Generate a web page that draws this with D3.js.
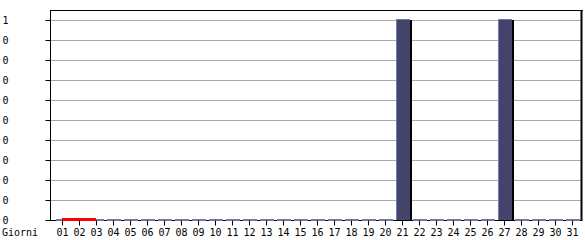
<!DOCTYPE html>
<html><head><meta charset="utf-8">
<script src="https://cdn.jsdelivr.net/npm/d3@7"></script>
<style>
html,body{margin:0;padding:0;background:#fff;}
svg{display:block;}
text{font-family:"DejaVu Sans Mono",monospace;font-size:10px;fill:#000;}
</style></head><body>
<script>
const days = ["01","02","03","04","05","06","07","08","09","10","11","12","13","14","15","16","17","18","19","20","21","22","23","24","25","26","27","28","29","30","31"];
const visits = [0,0,0,0,0,0,0,0,0,0,0,0,0,0,0,0,0,0,0,0,1,0,0,0,0,0,1,0,0,0,0];
const redDays = ["01","02","03"];
const redValues = [0,0,0];
const yTickValues = [0,0.1,0.2,0.3,0.4,0.5,0.6,0.7,0.8,0.9,1];
const yTickLabels = ["0","0","0","0","0","0","0","0","0","0","1"];
const xAxisTitle = "Giorni";

const W = 585, H = 240;
const svg = d3.select("body").append("svg").attr("width", W).attr("height", H);

const x = d3.scaleBand().domain(days).range([53.5, 580.5]).paddingInner(0).paddingOuter(0);
const y = d3.scaleLinear().domain([0, 1]).range([220, 20]);
const cx = d => x(d) + x.bandwidth() / 2;

// gridlines
svg.append("g").selectAll("line").data(yTickValues.filter(v => v > 0)).join("line")
  .attr("x1", 50).attr("x2", 582)
  .attr("y1", d => Math.round(y(d)) + 0.5).attr("y2", d => Math.round(y(d)) + 0.5)
  .attr("stroke", "#aaaaaa").attr("stroke-width", 1);

// frame
svg.append("line").attr("x1", 50).attr("x2", 583).attr("y1", 10.5).attr("y2", 10.5).attr("stroke", "#000");
svg.append("line").attr("x1", 581.5).attr("x2", 581.5).attr("y1", 10).attr("y2", 221).attr("stroke", "#000").attr("stroke-width", 2);
svg.append("line").attr("x1", 50).attr("x2", 582).attr("y1", 220.5).attr("y2", 220.5).attr("stroke", "#000");

// bars
const bw = 14;
const bars = svg.append("g").selectAll("g").data(days.map((d, i) => ({d, v: visits[i]}))).join("g");
bars.each(function(p) {
  const g = d3.select(this);
  const left = Math.round(cx(p.d)) - 6;
  const top = Math.round(y(p.v));
  const h = 220 - top;
  if (h > 0) {
    g.append("rect").attr("x", left + 14).attr("y", top).attr("width", 2).attr("height", h).attr("fill", "#000");
    g.append("rect").attr("x", left).attr("y", top).attr("width", bw).attr("height", h).attr("fill", "#44446b");
    g.append("rect").attr("x", left).attr("y", top - 1).attr("width", bw).attr("height", 1).attr("fill", "#7777bb");
    g.append("rect").attr("x", left).attr("y", top - 1).attr("width", 1).attr("height", h + 1).attr("fill", "#7777bb");
  } else {
    g.append("rect").attr("x", left).attr("y", top - 1).attr("width", bw).attr("height", 2).attr("fill", "#7373ad");
  }
});

// red line
svg.append("path")
  .datum(redDays.map((d, i) => ({d, v: redValues[i]})))
  .attr("d", d3.line().x(p => Math.round(cx(p.d))).y(p => y(p.v) - 0.5))
  .attr("stroke", "#ff0000").attr("stroke-width", 3).attr("fill", "none");

// y axis
const yAxis = svg.append("g").attr("transform", "translate(50.5,0)")
  .call(d3.axisLeft(y).tickValues(yTickValues).tickFormat((d, i) => yTickLabels[i]).tickSize(5).tickPadding(3));
yAxis.select(".domain").attr("d", "M0,10V220.5");
yAxis.selectAll(".tick line").attr("transform", "translate(0,0)");
yAxis.selectAll(".tick text").attr("text-anchor", "start").attr("x", -48).style("font-family", "'DejaVu Sans Mono',monospace").style("font-size", "10px");
yAxis.selectAll(".tick").attr("transform", d => `translate(0,${Math.round(y(d)) + 0.5})`);
yAxis.attr("font-family", null).attr("font-size", null);

// x axis
const xAxis = svg.append("g").attr("transform", "translate(0,220.5)")
  .call(d3.axisBottom(x).tickSize(5).tickPadding(3));
xAxis.select(".domain").remove();
xAxis.selectAll(".tick").attr("transform", d => `translate(${Math.round(cx(d)) + 0.5},0)`);
xAxis.selectAll(".tick text").style("font-family", "'DejaVu Sans Mono',monospace").style("font-size", "10px");
xAxis.attr("font-family", null).attr("font-size", null);

svg.append("text").attr("x", 2).attr("y", 236).text(xAxisTitle);
</script>
</body></html>
